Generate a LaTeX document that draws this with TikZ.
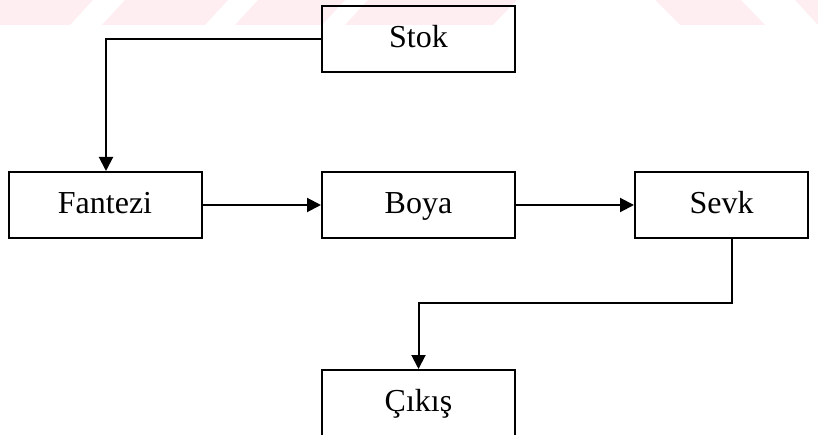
\documentclass[tikz,border=0pt]{standalone}
\usepackage{fontspec}
\setmainfont{Liberation Serif}
\usetikzlibrary{arrows.meta}
\definecolor{wmpink}{HTML}{FEEEF1}
\tikzset{
  stage/.style={draw=black, line width=2pt, minimum width=193pt, minimum height=66pt,
    inner sep=0pt, text height=23pt, text depth=6pt,
    font=\fontsize{32}{36}\selectfont},
  flow/.style={draw=black, line width=2pt, -{Triangle[length=14pt,width=14pt]}},
  band/.style={fill=wmpink, draw=none}
}
\begin{document}
\begin{tikzpicture}[x=1pt,y=-1pt]
  \useasboundingbox (0,0) rectangle (818,435);
  \fill[white] (0,0) rectangle (818,435);

  % faint striped band along the top edge
  \fill[band] (0,0) -- (93,0) -- (70,25) -- (0,25) -- cycle;
  \fill[band] (125,0) -- (228,0) -- (205,25) -- (102,25) -- cycle;
  \fill[band] (258,0) -- (345,0) -- (322,25) -- (235,25) -- cycle;
  \fill[band] (368,0) -- (517,0) -- (493,25) -- (345,25) -- cycle;
  \fill[band] (655,0) -- (741,0) -- (765,25) -- (680,25) -- cycle;
  \fill[band] (795,0) -- (818,0) -- (818,25) -- cycle;

  % process boxes
  \node[stage] (Stok)    at (418.5,39)  {Stok};
  \node[stage] (Fantezi) at (105,205)   {Fantezi};
  \node[stage] (Boya)    at (418.5,205) {Boya};
  \node[stage, minimum width=173pt] (Sevk) at (721.5,205) {Sevk};
  \node[stage] (Cikis)   at (418.5,403) {Çıkış};

  % connectors
  \coordinate (drop) at (106,39);
  \coordinate (turn) at (732,303);
  \draw[flow] (Stok.west) -- (drop) -- (drop |- Fantezi.north);
  \draw[flow] (Fantezi.east) -- (Boya.west);
  \draw[flow] (Boya.east) -- (Sevk.west);
  \draw[flow] (Sevk.south -| turn) -- (turn) -| (Cikis.north);
\end{tikzpicture}
\end{document}
